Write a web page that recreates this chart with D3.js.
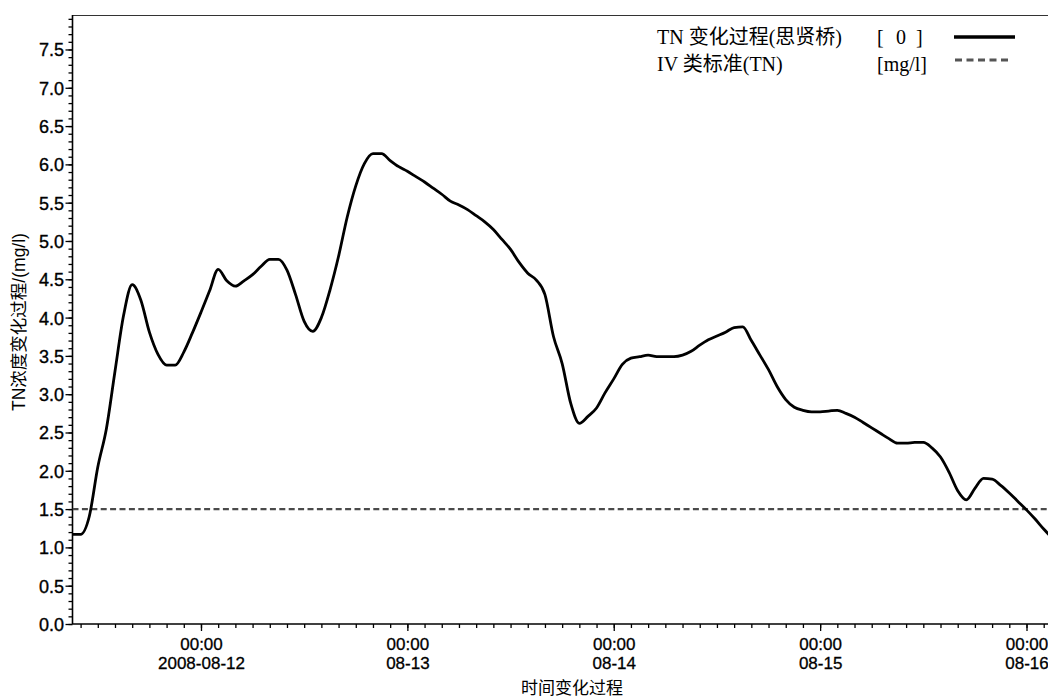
<!DOCTYPE html>
<html>
<head>
<meta charset="utf-8">
<script src="https://cdn.jsdelivr.net/npm/d3@7"></script>
<style>
  html, body { margin: 0; padding: 0; background: #fff; }
  svg { display: block; }
</style>
</head>
<body>
<svg id="chart" width="1048" height="697"></svg>
<script>
// ---- data ----
const startTime = "2008-08-11T09:00:00Z";   // first hourly sample
const endTime = "2008-08-16T02:30:00Z";     // right edge of visible window
const tnValues = [
  1.17,1.17,1.40,2.05,2.55,3.30,4.03,4.43,4.23,3.81,3.52,3.38,3.38,3.55,3.80,4.07,4.35,4.63,4.48,4.41,4.48,
  4.56,4.67,4.76,4.76,4.62,4.30,3.95,3.82,4.00,4.36,4.80,5.31,5.72,6.01,6.14,6.14,6.05,5.97,5.91,5.84,5.77,5.69,5.61,5.52,
  5.47,5.41,5.33,5.25,5.15,5.02,4.89,4.72,4.58,4.49,4.30,3.75,3.40,2.88,2.62,2.71,2.82,3.02,3.20,3.39,3.47,3.49,
  3.51,3.49,3.49,3.49,3.51,3.56,3.64,3.71,3.76,3.81,3.87,3.88,3.70,3.51,3.32,3.10,2.93,2.83,2.79,2.77,2.77,
  2.78,2.79,2.75,2.70,2.63,2.56,2.49,2.42,2.36,2.36,2.37,2.37,2.30,2.18,1.98,1.74,1.62,1.77,1.90,1.89,1.81,1.71,1.60,1.49,1.37,1.24,1.12
];
const standardValue = 1.5;
const yMax = 7.95;
const yMajorTicks = [0,0.5,1,1.5,2,2.5,3,3.5,4,4.5,5,5.5,6,6.5,7,7.5];
const xMajorDates = ["2008-08-12","2008-08-13","2008-08-14","2008-08-15","2008-08-16"];
const xTimeLabels = ["00:00","00:00","00:00","00:00","00:00"];
const xDateLabels = ["2008-08-12","08-13","08-14","08-15","08-16"];
const legendNames = ["TN 变化过程(思贤桥)", "IV 类标准(TN)"];
const legendUnits = ["[", "0", "]", "[mg/l]"];
const yTitle = "TN浓度变化过程/(mg/l)";
const xTitle = "时间变化过程";

// ---- layout ----
const pL = 72.5, pT = 15, pB = 624, pR = 1048;
const svg = d3.select("#chart");

const t0 = new Date(startTime);
const points = tnValues.map((v, i) => ({ t: new Date(t0.getTime() + i * 3600e3), v }));

const x = d3.scaleUtc().domain([t0, new Date(endTime)]).range([72, pR]);
const y = d3.scaleLinear().domain([0, yMax]).range([pB, pT]);

const sansFont = "'Liberation Sans', Arial, 'Noto Sans CJK SC', sans-serif";
const serifFont = "'Liberation Serif', 'Times New Roman', 'Noto Sans CJK SC', serif";

svg.append("defs").append("clipPath").attr("id", "clip")
  .append("rect").attr("x", pL).attr("y", pT).attr("width", pR - pL).attr("height", pB - pT);

// frame: top border
svg.append("line").attr("x1", pL).attr("x2", pR).attr("y1", pT + 0.5).attr("y2", pT + 0.5)
  .attr("stroke", "#333").attr("stroke-width", 1.2);

// Y axis with minor ticks
const yMinor = d3.range(0, 80).map(d => d / 10).filter(d => d <= yMax);
const yMinorAxis = d3.axisLeft(y).tickValues(yMinor).tickSize(4).tickFormat("");
const gYm = svg.append("g").attr("transform", `translate(${pL},0)`).call(yMinorAxis);
gYm.select(".domain").remove();
const yAxis = d3.axisLeft(y).tickValues(yMajorTicks).tickSize(7).tickPadding(1.5).tickFormat(d3.format(".1f"));
const gY = svg.append("g").attr("transform", `translate(${pL},0)`).call(yAxis);
gY.select(".domain").attr("d", `M0,${pT}V${pB}`).attr("stroke-width", 1.6);
svg.selectAll("g .tick line").attr("stroke", "#000").attr("stroke-width", 1.3);
gY.selectAll("text").attr("font-family", sansFont).attr("font-size", 18).attr("fill", "#000")
  .attr("stroke", "#000").attr("stroke-width", 0.35).attr("dy", "0.36em");

// X axis with minor ticks every 2h
const xMinorAxis = d3.axisBottom(x).ticks(d3.utcHour.every(2)).tickSize(4).tickFormat("");
const gXm = svg.append("g").attr("transform", `translate(0,${pB})`).call(xMinorAxis);
gXm.select(".domain").remove();
gXm.selectAll("line").attr("stroke", "#000").attr("stroke-width", 1.3);
const majorDates = xMajorDates.map(d => new Date(d + "T00:00:00Z"));
const xAxis = d3.axisBottom(x).tickValues(majorDates).tickSize(7).tickFormat("");
const gX = svg.append("g").attr("transform", `translate(0,${pB})`).call(xAxis);
gX.select(".domain").attr("d", `M${pL},0H${pR}`).attr("stroke-width", 1.6);
gX.selectAll("line").attr("stroke", "#000").attr("stroke-width", 1.3);
gX.selectAll(".tick").each(function(d, i) {
  const g = d3.select(this);
  g.append("text").attr("y", 26).attr("text-anchor", "middle").attr("fill", "#000")
    .attr("stroke", "#000").attr("stroke-width", 0.3)
    .attr("font-family", sansFont).attr("font-size", 17).text(xTimeLabels[i]);
  g.append("text").attr("y", 45).attr("text-anchor", "middle").attr("fill", "#000")
    .attr("stroke", "#000").attr("stroke-width", 0.3)
    .attr("font-family", sansFont).attr("font-size", 17).text(xDateLabels[i]);
});

// standard dashed line
svg.append("line").attr("clip-path", "url(#clip)")
  .attr("x1", pL).attr("x2", pR).attr("y1", y(standardValue)).attr("y2", y(standardValue))
  .attr("stroke", "#4a4a4a").attr("stroke-width", 2.4).attr("stroke-dasharray", "6,3.4");

// TN line
const line = d3.line().x(d => x(d.t)).y(d => y(d.v)).curve(d3.curveMonotoneX);
svg.append("path").datum(points).attr("clip-path", "url(#clip)")
  .attr("d", line).attr("fill", "none").attr("stroke", "#000").attr("stroke-width", 2.8)
  .attr("stroke-linejoin", "round");

// titles
svg.append("text").attr("transform", `translate(25,322) rotate(-90)`).attr("text-anchor", "middle")
  .attr("font-family", sansFont).attr("font-size", 17.5).attr("fill", "#000").text(yTitle);
svg.append("text").attr("x", 572).attr("y", 694).attr("text-anchor", "middle")
  .attr("font-family", sansFont).attr("font-size", 17).attr("fill", "#000").text(xTitle);

// legend
const lg = svg.append("g").attr("font-family", serifFont).attr("font-size", 20).attr("fill", "#000");
lg.append("text").attr("x", 657).attr("y", 44).text(legendNames[0]);
lg.append("text").attr("x", 657).attr("y", 71).text(legendNames[1]);
lg.append("text").attr("x", 877).attr("y", 44).text(legendUnits[0]);
lg.append("text").attr("x", 896).attr("y", 44).text(legendUnits[1]);
lg.append("text").attr("x", 916).attr("y", 44).text(legendUnits[2]);
lg.append("text").attr("x", 877).attr("y", 71).text(legendUnits[3]);
svg.append("line").attr("x1", 954).attr("x2", 1015).attr("y1", 37).attr("y2", 37)
  .attr("stroke", "#000").attr("stroke-width", 3.4);
svg.append("line").attr("x1", 955).attr("x2", 1012).attr("y1", 60).attr("y2", 60)
  .attr("stroke", "#555").attr("stroke-width", 3).attr("stroke-dasharray", "7,4.5");
</script>
</body>
</html>
